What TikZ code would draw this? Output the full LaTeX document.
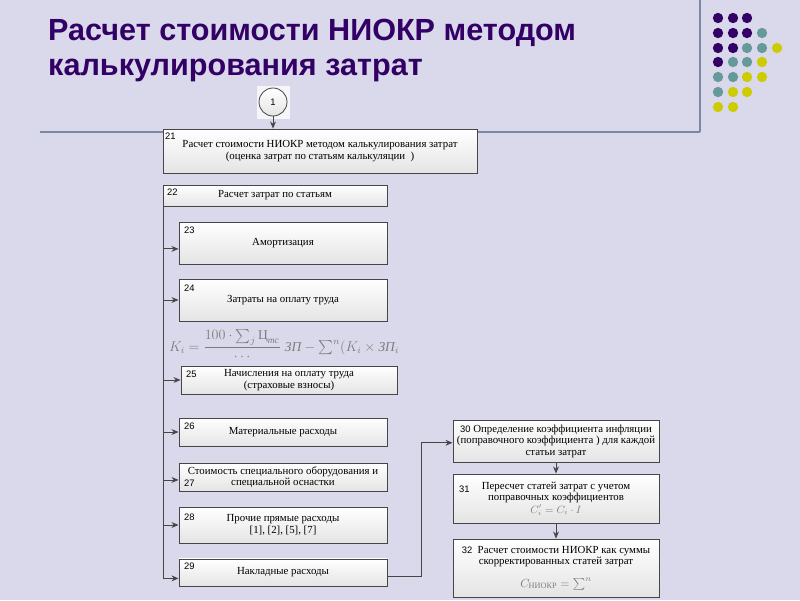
\documentclass[tikz,border=0pt]{standalone}
\usepackage{fontspec}
\usepackage{amsmath}
\setmainfont{Liberation Serif}
\newfontfamily\titlefont{Liberation Sans}
\newfontfamily\numfont{Liberation Sans}
\usetikzlibrary{arrows.meta,calc,shadows}
\definecolor{bgcol}{RGB}{217,217,235}
\definecolor{titlecol}{RGB}{51,0,102}
\definecolor{rulecol}{RGB}{122,136,160}
\definecolor{dp}{RGB}{51,0,102}
\definecolor{tl}{RGB}{102,153,153}
\definecolor{yl}{RGB}{204,204,0}
\definecolor{boxline}{RGB}{70,70,70}
\definecolor{boxbot}{RGB}{228,228,228}
\definecolor{arrcol}{RGB}{70,70,70}
\definecolor{fgray}{RGB}{125,125,125}
\begin{document}
\begin{tikzpicture}[x=0.85pt,y=-0.85pt,
  box/.style={draw=boxline, line width=0.8pt, top color=white, bottom color=boxbot,
    drop shadow={shadow xshift=0.8pt,shadow yshift=-0.8pt,fill=black,opacity=0.3},
    align=center, inner sep=1pt, font=\fontsize{9.2}{9.8}\selectfont},
  num/.style={inner sep=0pt, font=\numfont\fontsize{8}{9}\selectfont},
  arr/.style={draw=arrcol, line width=0.7pt, -{Stealth[length=6pt,width=5pt]}},
  ttl/.style={anchor=base west, inner sep=0pt, text=titlecol, font=\titlefont\bfseries\fontsize{26}{30}\selectfont},
  circ/.style={circle, draw=boxline, line width=0.7pt, top color=white, bottom color=boxbot,
    minimum size=23.8pt, inner sep=0pt, font=\numfont\fontsize{8}{9}\selectfont},
  form/.style={inner sep=0pt, text=fgray}
]
\fill[bgcol] (0,0) rectangle (800,600);
\useasboundingbox (0,0) rectangle (800,600);
% rules
\draw[rulecol, line width=1pt] (700,0) -- (700,132);
\draw[rulecol, line width=1pt] (40,132) -- (700,132);
% dots
\foreach \x/\y/\c in {718/18/dp,733/18/dp,747/18/dp,
  718/33/dp,733/33/dp,747/33/dp,762/33/tl,
  718/48/dp,733/48/dp,747/48/tl,762/48/tl,777/48/yl,
  718/62/dp,733/62/tl,747/62/tl,762/62/yl,
  718/77/tl,733/77/tl,747/77/yl,762/77/yl,
  718/92/tl,733/92/yl,747/92/yl,
  718/107/yl,733/107/yl}
  \fill[\c] (\x,\y) circle[radius=4.4pt];
% title
\node[ttl] (t1) at (48,40) {Расчет стоимости НИОКР методом};
\node[ttl] (t2) at (48,75) {калькулирования затрат};
% start circle
\fill[white!75!bgcol] (257,86) rectangle (290,119);
\node[circ] (n1) at (273,102) {1};
% boxes
\node[box, minimum width=266.9pt, minimum height=37.4pt] (b21) at (320,151)
  {Расчет стоимости НИОКР методом калькулирования затрат\\(оценка затрат по статьям калькуляции\ \ )};
\node[num, anchor=west] (n21) at (165,136) {21};
\node[box, minimum width=190.4pt, minimum height=17.85pt] (b22) at (275,195.5) {Расчет затрат по статьям};
\node[num, anchor=west] (n22) at (167,192) {22};
\node[box, minimum width=176.8pt, minimum height=35.7pt] (b23) at (283,243) {Амортизация};
\node[num, anchor=west] (n23) at (184,230) {23};
\node[box, minimum width=176.8pt, minimum height=35.7pt] (b24) at (283,300) {Затраты на оплату труда};
\node[num, anchor=west] (n24) at (184,288) {24};
\node[form, font=\fontsize{11.5}{13}\selectfont] (fK) at (284,345)
  {$K_i=\dfrac{100\cdot\sum_{j}\text{Ц}_{\textit{тс}}}{\cdots}\;\textit{ЗП}-\sum\nolimits^{n}(K_i\times\textit{ЗП}_i$};
\node[box, minimum width=183.6pt, minimum height=23.8pt] (b25) at (289,380) {Начисления на оплату труда\\(страховые взносы)};
\node[num, anchor=west] (n25) at (186,374) {25};
\node[box, minimum width=176.8pt, minimum height=23.8pt] (b26) at (283,432) {Материальные расходы};
\node[num, anchor=west] (n26) at (184,426) {26};
\node[box, minimum width=176.8pt, minimum height=23.8pt] (b27) at (283,477) {Стоимость специального оборудования и\\специальной оснастки};
\node[num, anchor=west] (n27) at (184,483) {27};
\node[box, minimum width=176.8pt, minimum height=30.6pt] (b28) at (283,525) {Прочие прямые расходы\\{[1], [2], [5], [7]}};
\node[num, anchor=west] (n28) at (184,517) {28};
\node[box, minimum width=176.8pt, minimum height=23pt] (b29) at (283,572.5) {Накладные расходы};
\node[num, anchor=west] (n29) at (184,566) {29};
\node[box, minimum width=175.1pt, minimum height=35.7pt] (b30) at (556,441)
  {{\numfont\fontsize{8}{9}\selectfont 30} Определение коэффициента инфляции\\(поправочного коэффициента ) для каждой\\статьи затрат};
\node[box, minimum width=175.1pt, minimum height=41.65pt] (b31) at (556,498.5)
  {Пересчет статей затрат с учетом\\поправочных коэффициентов\\[1pt]{\color{fgray}$C'_i=C_i\cdot I$}};
\node[num, anchor=west] (n31) at (459,489) {31};
\node[box, minimum width=175.1pt, minimum height=49.3pt] (b32) at (556,568)
  {{\numfont\fontsize{8}{9}\selectfont 32}\ \ Расчет стоимости НИОКР как суммы\\скорректированных статей затрат\\[8pt]{\color{fgray}\fontsize{10}{12}\selectfont$C_{\text{НИОКР}}=\sum\nolimits^{n}$}};
% connectors
\draw[arr] (n1.south) -- (n1.south |- b21.north);
\coordinate (trunk) at ([xshift=0.6pt]b22.south west);
\draw[arr] (trunk) |- ([yshift=-5pt]b23.west);
\draw[arr] (trunk) |- (b24.west);
\draw[arr] (trunk) |- (b25.west);
\draw[arr] (trunk) |- (b26.west);
\draw[arr] (trunk) |- ([yshift=-2.5pt]b27.west);
\draw[arr] (trunk) |- (b28.west);
\draw[arr] (trunk) |- ([yshift=-5pt]b29.west);
\draw[arr] ([yshift=-3pt]b29.east) -- ++(34,0) |- ([yshift=-1.5pt]b30.west);
\draw[arr] (b30.south) -- (b31.north);
\draw[arr] (b31.south) -- (b32.north);
\end{tikzpicture}
\end{document}
